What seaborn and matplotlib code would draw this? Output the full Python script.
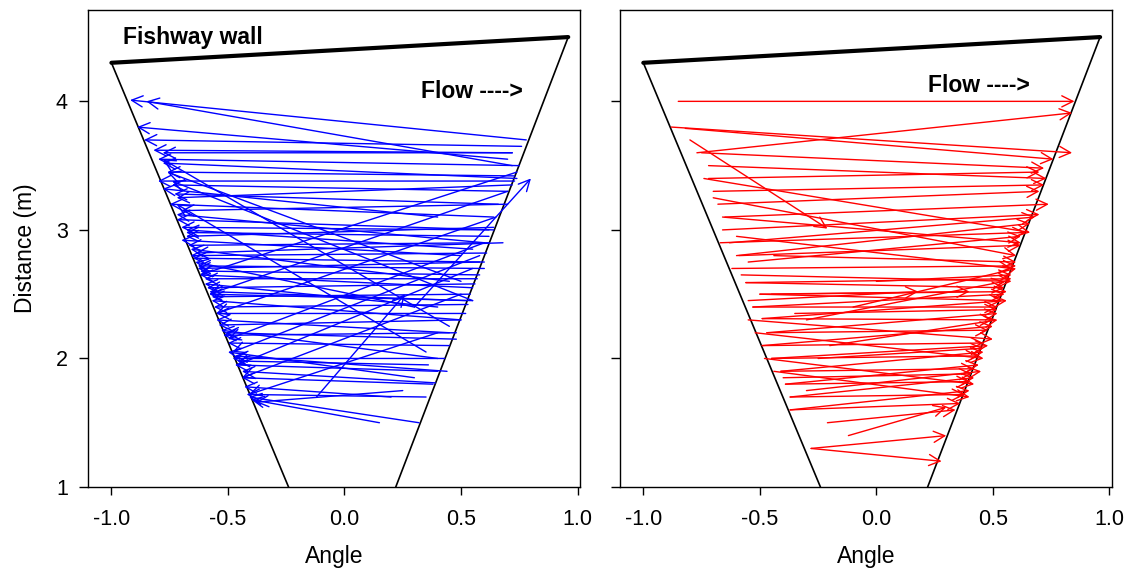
import seaborn as sns
import matplotlib
matplotlib.use("Agg")
import matplotlib.pyplot as plt

# fishway outline (angle, distance)
wall_x = [-1.0, 0.96]
wall_y = [4.30, 4.50]
left_edge_x = [-1.0, -0.24]
left_edge_y = [4.30, 1.0]
right_edge_x = [0.96, 0.22]
right_edge_y = [4.50, 1.0]

# blue panel: tail -> head
blue_x0 = [0.78, 0.72, 0.70, 0.76, 0.72, 0.72, 0.75, 0.74, 0.73, 0.73, 0.70, 0.40, 0.72, 0.64, 0.70,
           0.60, 0.64, 0.62, 0.55, 0.64, 0.50, 0.62, 0.45, 0.61, 0.60, 0.30, 0.60, 0.58, 0.55, 0.57,
           0.40, 0.56, 0.55, 0.54, 0.50, 0.53, 0.52, 0.45, 0.50, 0.40, 0.48, 0.45, 0.30, 0.43, 0.40,
           0.38, 0.20, 0.35, 0.32, 0.15, 0.45, 0.55, 0.35, 0.50, 0.74, 0.70, 0.65, 0.60, 0.58, 0.50,
           0.40, 0.55, -0.12, 0.30, 0.68, 0.44, 0.39, 0.62, 0.66, 0.52, 0.58, 0.48, 0.36, 0.25]
blue_y0 = [3.70, 3.50, 3.55, 3.65, 3.60, 3.60, 3.50, 3.40, 3.42, 3.38, 3.30, 3.10, 3.35, 3.10, 3.20,
           2.90, 3.00, 3.00, 2.85, 3.02, 2.80, 2.90, 2.60, 2.82, 2.75, 2.40, 2.70, 2.65, 2.55, 2.62,
           2.40, 2.58, 2.45, 2.50, 2.30, 2.42, 2.35, 2.20, 2.30, 2.00, 2.20, 2.10, 1.85, 2.00, 1.90,
           1.80, 1.70, 1.70, 1.50, 1.50, 2.25, 2.45, 2.05, 2.60, 3.45, 3.30, 3.10, 2.90, 2.80, 2.50,
           2.20, 2.70, 1.70, 2.40, 2.90, 1.90, 1.81, 2.95, 3.20, 2.45, 2.75, 2.15, 1.95, 1.75]
blue_x1 = [-0.92, -0.85, -0.89, -0.86, -0.82, -0.78, -0.80, -0.78, -0.76, -0.80, -0.74, -0.78, -0.72, -0.75, -0.70,
           -0.72, -0.72, -0.70, -0.68, -0.68, -0.70, -0.67, -0.66, -0.66, -0.65, -0.64, -0.63, -0.62, -0.62, -0.60,
           -0.60, -0.59, -0.58, -0.57, -0.57, -0.56, -0.55, -0.55, -0.54, -0.53, -0.52, -0.50, -0.50, -0.48, -0.47,
           -0.44, -0.43, -0.42, -0.41, -0.40, -0.78, -0.74, -0.72, -0.76, -0.62, -0.58, -0.55, -0.50, -0.48, -0.44,
           -0.41, -0.46, 0.26, 0.80, -0.64, -0.47, -0.44, -0.68, -0.73, -0.58, -0.63, -0.51, -0.46, -0.38]
blue_y1 = [4.01, 4.00, 3.80, 3.70, 3.62, 3.60, 3.55, 3.52, 3.45, 3.38, 3.35, 3.32, 3.25, 3.20, 3.15,
           3.12, 3.08, 3.02, 3.00, 2.95, 2.92, 2.88, 2.85, 2.80, 2.78, 2.75, 2.72, 2.68, 2.65, 2.62,
           2.58, 2.55, 2.50, 2.48, 2.45, 2.40, 2.35, 2.30, 2.26, 2.22, 2.18, 2.12, 2.05, 2.00, 1.95,
           1.85, 1.78, 1.72, 1.70, 1.68, 3.55, 3.38, 3.20, 3.45, 2.65, 2.50, 2.35, 2.15, 2.05, 1.85,
           1.72, 1.95, 2.50, 3.40, 2.82, 2.02, 1.90, 2.98, 3.28, 2.52, 2.70, 2.20, 1.98, 1.66]

# red panel: tail -> head
red_x0 = [-0.85, -0.77, -0.88, -0.82, -0.80, -0.75, -0.72, -0.72, -0.70, -0.68, -0.65, -0.66, -0.63, -0.60, -0.55,
          -0.74, -0.70, -0.66, -0.60, -0.21, -0.12, -0.28, -0.28, -0.45, -0.50, -0.56, -0.56, -0.53, -0.53, -0.49,
          -0.49, -0.47, -0.47, -0.49, -0.49, -0.45, -0.45, -0.41, -0.41, -0.39, -0.39, -0.37, -0.37, -0.37, -0.37,
          -0.30, -0.20, -0.10, -0.44, -0.59, -0.67, 0.00, -0.30, -0.55, -0.52, -0.48, -0.44, -0.55, -0.50, -0.62,
          -0.58, -0.35, -0.25, -0.40]
red_y0 = [4.00, 3.60, 3.80, 3.79, 3.70, 3.60, 3.50, 3.40, 3.30, 3.20, 3.10, 3.00, 2.90, 2.80, 2.75,
          3.40, 3.25, 3.10, 2.95, 1.50, 1.40, 1.30, 1.30, 2.50, 2.50, 2.59, 2.59, 2.40, 2.40, 2.31,
          2.31, 2.20, 2.20, 2.10, 2.10, 2.00, 2.00, 1.90, 1.90, 1.80, 1.80, 1.70, 1.70, 1.60, 1.60,
          1.75, 2.10, 2.40, 2.80, 2.80, 2.90, 2.60, 2.30, 2.30, 2.20, 2.00, 1.90, 2.45, 2.50, 2.70,
          2.65, 2.35, 2.00, 1.85]
red_x1 = [0.85, 0.84, 0.84, 0.76, -0.21, 0.72, 0.73, 0.70, 0.72, 0.70, 0.74, 0.70, 0.68, 0.66, 0.62,
          0.66, 0.60, 0.62, 0.58, 0.34, 0.30, 0.30, 0.28, 0.56, 0.54, 0.58, 0.55, 0.55, 0.52, 0.56,
          0.50, 0.52, 0.48, 0.50, 0.46, 0.48, 0.44, 0.46, 0.42, 0.44, 0.40, 0.42, 0.38, 0.40, 0.36,
          0.45, 0.52, 0.60, 0.60, 0.62, 0.64, 0.58, 0.55, 0.50, 0.46, 0.42, 0.40, 0.18, 0.40, 0.60,
          0.58, 0.52, 0.46, 0.41]
red_y1 = [4.00, 3.91, 3.60, 3.55, 3.01, 3.48, 3.40, 3.45, 3.35, 3.30, 3.20, 3.12, 3.10, 3.05, 2.95,
          2.98, 2.80, 2.90, 2.70, 1.60, 1.62, 1.40, 1.20, 2.52, 2.45, 2.62, 2.55, 2.50, 2.40, 2.45,
          2.30, 2.35, 2.22, 2.25, 2.12, 2.10, 2.02, 2.05, 1.92, 1.95, 1.82, 1.85, 1.72, 1.75, 1.65,
          1.90, 2.30, 2.70, 2.75, 2.88, 2.98, 2.65, 2.60, 2.15, 2.00, 1.80, 1.70, 2.52, 2.52, 2.72,
          2.60, 2.38, 2.08, 1.88]

sns.set_theme(style="ticks")
plt.rcParams['font.family'] = ['Liberation Sans', 'DejaVu Sans']
plt.rcParams['text.color'] = 'black'
plt.rcParams['axes.labelcolor'] = 'black'

fig = plt.figure(figsize=(11.37, 5.76), dpi=100)
ax1 = fig.add_axes([0.0775, 0.1545, 0.4325, 0.828])
ax2 = fig.add_axes([0.5453, 0.1545, 0.4325, 0.828])


def draw_panel(ax, x0, y0, x1, y1, color):
    sns.lineplot(x=wall_x, y=wall_y, color="black", lw=3, ax=ax, sort=False)
    sns.lineplot(x=left_edge_x, y=left_edge_y, color="black", lw=1.2, ax=ax, sort=False)
    sns.lineplot(x=right_edge_x, y=right_edge_y, color="black", lw=1.2, ax=ax, sort=False)
    for a, b, c, d in zip(x0, y0, x1, y1):
        ax.annotate("", xy=(c, d), xytext=(a, b),
                    arrowprops=dict(arrowstyle="->", color=color, lw=1.0,
                                    shrinkA=0, shrinkB=0, mutation_scale=20))
    ax.set_xlim(-1.1, 1.01)
    ax.set_ylim(1, 4.71)
    ax.set_xticks([-1.0, -0.5, 0.0, 0.5, 1.0])
    ax.set_xticklabels(["-1.0", "-0.5", "0.0", "0.5", "1.0"])
    ax.set_yticks([1, 2, 3, 4])
    ax.tick_params(direction="out", width=1, labelsize=15.5, colors="black")
    ax.tick_params(axis="x", length=5.5, pad=10)
    ax.tick_params(axis="y", length=6.5, pad=8)
    for sp in ax.spines.values():
        sp.set_color("black")
        sp.set_linewidth(1)
    ax.set_xlabel("Angle", fontsize=16.5, labelpad=11)


draw_panel(ax1, blue_x0, blue_y0, blue_x1, blue_y1, "blue")
draw_panel(ax2, red_x0, red_y0, red_x1, red_y1, "red")

ax1.set_ylabel("Distance (m)", fontsize=16.5, labelpad=14)
ax2.set_ylabel("")
ax2.set_yticklabels([])

ax1.text(-0.95, 4.50, "Fishway wall", fontsize=16.5, fontweight="bold", va="center")
ax1.text(0.33, 4.08, "Flow ---->", fontsize=16.5, fontweight="bold", va="center")
ax2.text(0.22, 4.12, "Flow ---->", fontsize=16.5, fontweight="bold", va="center")

fig.savefig("out.png", dpi=100)
